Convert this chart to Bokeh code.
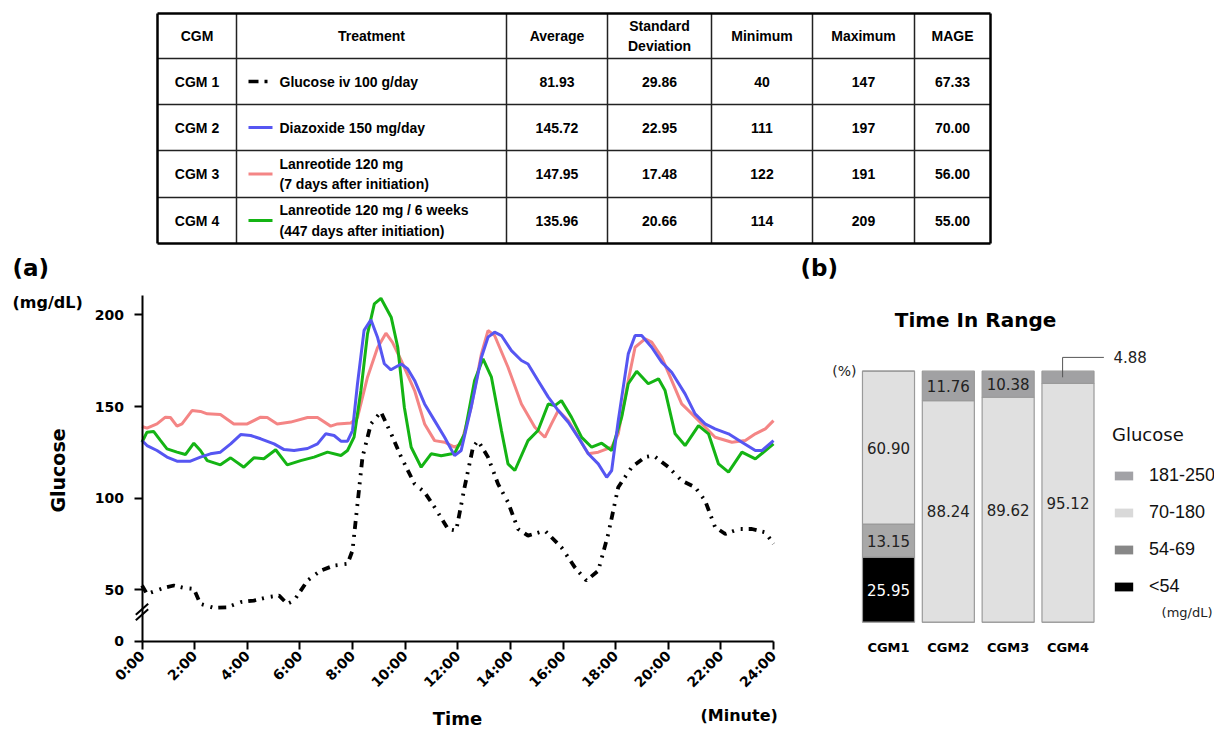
from math import pi
from bokeh.plotting import figure
from bokeh.models import (Range1d, FixedTicker, Label, Legend, LegendItem, ColumnDataSource)
from bokeh.layouts import column, row
from bokeh.embed import file_html
from bokeh.resources import INLINE
from bokeh.core.properties import value

# ---------------- table data ----------------
table_header = ["CGM", "Treatment", "Average", "Standard\nDeviation", "Minimum", "Maximum", "MAGE"]
cgm_names = ["CGM 1", "CGM 2", "CGM 3", "CGM 4"]
treatments = ["Glucose iv 100 g/day", "Diazoxide 150 mg/day",
              "Lanreotide 120 mg\n(7 days after initiation)",
              "Lanreotide 120 mg / 6 weeks\n(447 days after initiation)"]
averages = ["81.93", "145.72", "147.95", "135.96"]
std_devs = ["29.86", "22.95", "17.48", "20.66"]
minimums = ["40", "111", "122", "114"]
maximums = ["147", "197", "191", "209"]
mages = ["67.33", "70.00", "56.00", "55.00"]

# ---------------- CGM curves (hour, mg/dL) ----------------
black_h = [0, 0.19, 0.83, 1.21, 1.59, 1.97, 2.22, 2.73, 3.24, 3.75, 4.25, 4.76, 5.21, 5.52, 5.78,
           6.29, 6.79, 7.3, 7.81, 8.0, 8.19, 8.38, 8.7, 9.08, 9.47, 9.85, 10.36, 10.74, 11.12, 11.63,
           11.94, 12.26, 12.58, 12.77, 13.15, 13.53, 13.91, 14.29, 14.67, 15.31, 15.94, 16.45, 16.89,
           17.34, 17.72, 18.1, 18.61, 19.12, 19.44, 20.01, 20.51, 21.02, 21.4, 21.78, 22.17, 22.67,
           23.18, 23.69, 24.0]
black_v = [52.4, 47.8, 51.1, 52.4, 51.1, 50.5, 42.4, 40.2, 40.5, 43.3, 44.2, 46.0, 46.9, 42.4, 44.2,
           55.1, 60.5, 63.3, 64.2, 71.5, 96.9, 122.4, 140.5, 147.0, 135.1, 122.4, 107.8, 103.2, 95.1, 83.2,
           82.3, 106.0, 127.8, 131.4, 122.4, 107.8, 97.8, 83.2, 79.6, 82.3, 73.2, 62.3, 55.1,
           60.5, 80.5, 106.0, 116.9, 122.4, 123.3, 116.9, 109.6, 106.0, 98.7, 84.2, 80.5, 83.2,
           83.2, 81.4, 75.1]

red_h = [0, 0.19, 0.57, 0.89, 1.08, 1.33, 1.52, 1.9, 2.22, 2.48, 2.98, 3.49, 4.0, 4.51, 4.76,
         5.14, 5.65, 6.29, 6.67, 7.17, 7.43, 7.94, 8.19, 8.57, 8.95, 9.27, 9.52, 9.85, 10.36, 10.74,
         11.12, 11.5, 11.88, 12.13, 12.51, 12.9, 13.15, 13.4, 13.91, 14.42, 14.93, 15.31, 15.56, 15.82,
         16.2, 16.58, 16.96, 17.34, 17.85, 18.1, 18.48, 18.74, 19.12, 19.37, 19.75, 20.13, 20.51, 20.9,
         21.28, 21.78, 22.42, 22.93, 23.31, 23.69, 24.0]
red_v = [139.1, 138.2, 140.5, 144.2, 144.0, 139.3, 140.5, 147.8, 147.3, 146.0, 145.6, 140.5, 140.5, 144.2, 144.0,
         140.5, 141.5, 144.0, 144.0, 139.3, 140.5, 141.0, 144.0, 166.0, 182.0, 190.0, 185.0, 175.1, 158.7, 140.5,
         131.4, 130.5, 127.8, 129.6, 149.6, 178.7, 191.4, 188.7, 171.4, 151.4, 138.7, 133.2, 140.5, 147.8,
         142.3, 133.2, 124.2, 125.1, 127.8, 135.1, 164.2, 182.3, 186.9, 185.1, 176.9, 164.2, 151.4, 146.0,
         140.5, 133.2, 130.5, 131.4, 135.1, 137.8, 142.3]

blue_h = [0, 0.19, 0.57, 0.95, 1.33, 1.84, 2.22, 2.6, 2.98, 3.37, 3.75, 4.13, 4.51, 5.02, 5.4,
          5.78, 6.29, 6.67, 6.98, 7.3, 7.56, 7.81, 8.0, 8.19, 8.44, 8.7, 8.95, 9.21, 9.46, 9.85,
          10.1, 10.36, 10.74, 11.12, 11.5, 11.88, 12.13, 12.51, 12.9, 13.15, 13.4, 13.66, 14.04, 14.42,
          14.67, 15.05, 15.44, 15.82, 16.2, 16.58, 16.96, 17.34, 17.66, 17.85, 18.1, 18.48, 18.74, 18.99,
          19.37, 19.75, 20.13, 20.64, 21.02, 21.4, 21.78, 22.29, 22.8, 23.31, 23.56, 24.0]
blue_v = [131.5, 128.7, 126.0, 122.4, 120.2, 120.2, 122.4, 124.2, 125.1, 129.6, 134.7, 134.2, 132.4, 129.6, 126.5,
          126.0, 127.1, 129.6, 135.1, 134.2, 131.1, 131.1, 136.9, 162.4, 191.5, 197.3, 187.8, 173.3, 170.0, 173.2,
          170.5, 164.2, 151.4, 142.3, 133.2, 123.2, 126.0, 149.6, 176.9, 187.8, 190.5, 188.7, 180.5, 175.1,
          173.2, 164.2, 155.1, 147.8, 141.4, 133.2, 124.2, 118.7, 111.4, 115.1, 142.3, 178.7, 188.7, 188.7,
          182.3, 174.2, 168.7, 156.9, 146.0, 140.5, 137.8, 135.1, 130.5, 126.0, 126.0, 131.4]

green_h = [0, 0.19, 0.44, 0.7, 0.95, 1.33, 1.65, 1.97, 2.22, 2.48, 2.98, 3.37, 3.87, 4.25, 4.63,
           5.08, 5.52, 6.03, 6.54, 7.05, 7.56, 7.81, 8.06, 8.32, 8.57, 8.83, 9.08, 9.47, 9.72, 9.97,
           10.23, 10.61, 10.99, 11.37, 11.88, 12.26, 12.64, 12.96, 13.28, 13.66, 13.91, 14.17, 14.67, 15.05,
           15.44, 15.69, 15.94, 16.32, 16.71, 17.09, 17.47, 17.85, 18.23, 18.48, 18.8, 19.24, 19.63, 19.88,
           20.26, 20.64, 21.15, 21.53, 21.91, 22.29, 22.8, 23.31, 24.0]
green_v = [130.5, 136.0, 136.4, 131.5, 126.9, 125.1, 123.8, 130.0, 126.0, 120.5, 118.2, 122.0, 116.9, 122.0, 121.5,
           126.4, 118.2, 120.5, 122.4, 125.1, 123.3, 126.0, 133.3, 158.7, 189.6, 206.0, 209.0, 198.7, 182.3, 149.6,
           127.8, 116.9, 124.2, 123.2, 124.5, 135.1, 164.2, 176.0, 166.0, 136.9, 118.7, 115.1, 131.4, 136.9,
           151.4, 150.5, 153.2, 144.2, 133.2, 127.8, 130.0, 126.0, 144.2, 162.4, 169.2, 162.4, 165.1, 158.7,
           135.1, 128.7, 139.6, 135.1, 118.7, 114.2, 125.1, 121.4, 129.6]

hour_ticks = [0, 2, 4, 6, 8, 10, 12, 14, 16, 18, 20, 22, 24]
glucose_ticks = [50, 100, 150, 200]

# ---------------- time in range data (%) ----------------
tir_names = ["CGM1", "CGM2", "CGM3", "CGM4"]
tir_lt54 = [25.95, 0, 0, 0]
tir_54_69 = [13.15, 0, 0, 0]
tir_70_180 = [60.90, 88.24, 89.62, 95.12]
tir_181_250 = [0, 11.76, 10.38, 4.88]
range_labels = ["181-250", "70-180", "54-69", "<54"]

# ---------------- styles ----------------
BLUE = "#5656F2"
PINK = "#F48585"
GREEN = "#14B414"
BLACK_DASH = "8 6 2 7 2 6"
series_colors = ["black", BLUE, PINK, GREEN]
BOLD_FONT = "DejaVu Sans"

# ============ table ============
TW, TH = 1214, 253
tab = figure(width=TW, height=TH, x_range=Range1d(0, TW), y_range=Range1d(TH, 0),
             output_backend="svg", toolbar_location=None, min_border=0)
tab.axis.visible = False
tab.grid.visible = False
tab.outline_line_color = None

col_edges = [157, 236, 506, 607, 711, 812, 914, 990]
row_edges = [13, 58, 104, 150, 197, 243]
top, bot = row_edges[0], row_edges[-1]
left, right = col_edges[0], col_edges[-1]

inner_v = col_edges[1:-1]
inner_h = row_edges[1:-1]
tab.segment(x0=inner_v, y0=[top] * len(inner_v), x1=inner_v, y1=[bot] * len(inner_v),
            line_color="#222222", line_width=1.5)
tab.segment(x0=[left] * len(inner_h), y0=inner_h, x1=[right] * len(inner_h), y1=inner_h,
            line_color="#222222", line_width=1.5)
tab.segment(x0=[left, right, left, left], y0=[top, top, top, bot],
            x1=[left, right, right, right], y1=[bot, bot, top, bot],
            line_color="black", line_width=2.5)

cx = [(col_edges[j] + col_edges[j + 1]) / 2 for j in range(len(col_edges) - 1)]
ry = [(row_edges[i] + row_edges[i + 1]) / 2 for i in range(len(row_edges) - 1)]

cols = [cgm_names, treatments, averages, std_devs, minimums, maximums, mages]
cx_list, cy_list, ct_list = [], [], []
for j, h in enumerate(table_header):
    cx_list.append(cx[j]); cy_list.append(ry[0]); ct_list.append(h)
for j, colvals in enumerate(cols):
    if j == 1:
        continue
    for i, v in enumerate(colvals):
        cx_list.append(cx[j]); cy_list.append(ry[i + 1]); ct_list.append(v)
TFONT = "14px"
tab.text(x=cx_list, y=cy_list, text=ct_list, text_align="center", text_baseline="middle",
         text_font=value("Liberation Sans"), text_font_style="bold", text_font_size=TFONT,
         text_line_height=1.3, text_color="black")

tx = col_edges[1] + 43
tab.text(x=[tx] * len(treatments), y=ry[1:], text=treatments, text_align="left",
         text_baseline="middle", text_font=value("Liberation Sans"), text_font_style="bold",
         text_font_size=TFONT, text_line_height=1.3, text_color="black")
for i in range(len(treatments)):
    tab.line(x=[col_edges[1] + 12, col_edges[1] + 36], y=[ry[i + 1]] * 2,
             line_color=series_colors[i], line_width=3.5 if i == 0 else 3,
             line_dash="10 6 3 20" if i == 0 else "solid")

# ============ (a) CGM curves ============
H2 = 479                 # height of the lower row
PX_H = 631.5 / 24        # px per hour
PX_G = 1.834             # px per mg/dL
Y_ZERO_POS = 22          # where the broken axis shows "0"
LW = 798
x0_px, y200_px = 141.5, 61.3   # layout anchors inside the canvas
lp = figure(width=LW, height=H2,
            x_range=Range1d(-x0_px / PX_H, (LW - x0_px) / PX_H),
            y_range=Range1d(200 - (H2 - y200_px) / PX_G, 200 + y200_px / PX_G),
            output_backend="svg", toolbar_location=None, min_border=0)
lp.grid.visible = False
lp.outline_line_color = None

lp.line(black_h, black_v, line_color="black", line_width=3.8, line_dash=BLACK_DASH)
lp.line(red_h, red_v, line_color=PINK, line_width=3)
lp.line(green_h, green_v, line_color=GREEN, line_width=3)
lp.line(blue_h, blue_v, line_color=BLUE, line_width=3)

for ax in (lp.xaxis[0], lp.yaxis[0]):
    ax.axis_line_width = 2
    ax.major_tick_line_width = 2
    ax.major_tick_out = 8
    ax.major_tick_in = 0
    ax.minor_tick_line_color = None
    ax.major_label_text_font = BOLD_FONT
    ax.major_label_text_font_style = "bold"
    ax.major_label_text_font_size = "14px"
    ax.major_label_text_color = "black"

lp.xaxis.fixed_location = Y_ZERO_POS
lp.xaxis.bounds = (hour_ticks[0], hour_ticks[-1])
lp.xaxis.ticker = FixedTicker(ticks=hour_ticks)
lp.xaxis.major_label_overrides = {h: f"{h}:00" for h in hour_ticks}
lp.xaxis.major_label_orientation = pi / 4
lp.xaxis.major_label_standoff = 4

lp.yaxis.fixed_location = 0
lp.yaxis.bounds = (Y_ZERO_POS, 210.6)
lp.yaxis.ticker = FixedTicker(ticks=[Y_ZERO_POS] + glucose_ticks)
lp.yaxis.major_label_overrides = {Y_ZERO_POS: "0"}
lp.yaxis.major_label_standoff = 10

# axis-break marks
BREAK_Y = 38
lp.segment(x0=[-0.235, -0.235], y0=[BREAK_Y - 4.5, BREAK_Y - 1.5],
           x1=[0.235, 0.235], y1=[BREAK_Y + 1.5, BREAK_Y + 4.5], line_color="black", line_width=2)

def lab(fig, x, y, text, size, bold=True, color="black", **kw):
    fig.add_layout(Label(x=x, y=y, x_units="screen", y_units="screen", text=text,
                         text_font=BOLD_FONT, text_font_style="bold" if bold else "normal",
                         text_font_size=size, text_baseline="middle", text_color=color, **kw))

lab(lp, 12, H2 - 14, "(a)", "23px")
lab(lp, 12, H2 - 49, "(mg/dL)", "16px")
lab(lp, 700, 17, "(Minute)", "16px")
lab(lp, 457, 14, "Time", "18px", text_align="center")
lab(lp, 57, 262, "Glucose", "19px", text_align="center", angle=pi / 2)

# ============ (b) time in range ============
idx = list(range(len(tir_names)))
RW = 416
PX_C = 59.83            # px per category slot
PX_P = 2.51             # px per percent
c0_px, y0_px = 90, 368.7   # canvas position of first bar centre and of 0 %
rp = figure(width=RW, height=H2,
            x_range=Range1d(-c0_px / PX_C, (RW - c0_px) / PX_C),
            y_range=Range1d(-(H2 - y0_px) / PX_P, y0_px / PX_P),
            output_backend="svg", toolbar_location=None, min_border=0)
rp.grid.visible = False
rp.outline_line_color = None

stack_keys = ["lt54", "r54_69", "r70_180", "r181_250"]
stack_colors = ["#000000", "#A8A8A8", "#E0E0E0", "#A1A1A3"]
src = ColumnDataSource(dict(x=idx, lt54=tir_lt54, r54_69=tir_54_69, r70_180=tir_70_180,
                            r181_250=tir_181_250))
rp.vbar_stack(stack_keys, x="x", width=0.87, source=src, fill_color=stack_colors,
              line_color="#9A9A9A", line_width=1.2)

lab_x, lab_y, lab_t, lab_c = [], [], [], []
callout = None
for i in idx:
    base = 0.0
    for key, vals in zip(stack_keys, [tir_lt54, tir_54_69, tir_70_180, tir_181_250]):
        v = vals[i]
        if v > 0:
            if v >= 8:
                lab_x.append(i); lab_y.append(base + v / 2); lab_t.append(f"{v:.2f}")
                lab_c.append("white" if key == "lt54" else "#222222")
            else:
                callout = (i, base + v / 2, v)
        base += v
rp.text(x=lab_x, y=lab_y, text=lab_t, text_color=lab_c, text_align="center",
        text_baseline="middle", text_font=value("DejaVu Sans"), text_font_size="15px")
if callout is not None:
    ci, cy, cv = callout
    elbow = 100 + 5.5
    rp.line(x=[ci - 0.09, ci - 0.09, ci + 0.6], y=[cy, elbow, elbow], line_color="#555555",
            line_width=1)
    rp.text(x=[ci + 0.76], y=[elbow], text=[f"{cv:.2f}"], text_align="left",
            text_baseline="middle", text_font=value("DejaVu Sans"), text_font_size="15px",
            text_color="#222222")

# legend key (colours as shown in the key)
legend_colors = ["#A2A2A6", "#D9D9D9", "#878787", "#000000"]
items = []
for labl, col in zip(range_labels, legend_colors):
    ksrc = ColumnDataSource(dict(x=[float("nan")], top=[float("nan")]))
    r = rp.vbar(x="x", top="top", width=0.5, source=ksrc, fill_color=col, line_color=None)
    items.append(LegendItem(label=labl, renderers=[r]))
legend = Legend(items=items, location=(314, 135), title="Glucose",
                glyph_width=23, glyph_height=11, label_standoff=14, spacing=16,
                label_text_font="Liberation Sans", label_text_font_size="18px",
                label_text_color="#111111",
                title_text_font="DejaVu Sans", title_text_font_size="18px",
                title_text_font_style="normal", title_text_color="#111111", title_standoff=20,
                padding=0, margin=0, border_line_color=None, background_fill_alpha=0)
rp.add_layout(legend)

rp.xaxis.fixed_location = 0
rp.xaxis.ticker = FixedTicker(ticks=idx)
rp.xaxis.major_label_overrides = {i: n for i, n in zip(idx, tir_names)}
rp.xaxis.axis_line_color = None
rp.xaxis.major_tick_line_color = None
rp.xaxis.major_tick_out = 0
rp.xaxis.minor_tick_line_color = None
rp.xaxis.major_label_standoff = 18
rp.xaxis.major_label_text_font = BOLD_FONT
rp.xaxis.major_label_text_font_style = "bold"
rp.xaxis.major_label_text_font_size = "13px"
rp.xaxis.major_label_text_color = "black"

rp.yaxis.fixed_location = idx[0] - 0.5
rp.yaxis.ticker = FixedTicker(ticks=[100])
rp.yaxis.major_label_overrides = {100: "(%)"}
rp.yaxis.axis_line_color = None
rp.yaxis.major_tick_line_color = None
rp.yaxis.major_tick_out = 0
rp.yaxis.minor_tick_line_color = None
rp.yaxis.major_label_standoff = 2
rp.yaxis.major_label_text_font = "DejaVu Sans"
rp.yaxis.major_label_text_font_size = "14px"
rp.yaxis.major_label_text_color = "#222222"

lab(rp, 177, H2 - 66, "Time In Range", "20px", text_align="center")
lab(rp, 2, H2 - 14, "(b)", "23px")
lab(rp, 414, H2 - 358.7, "(mg/dL)", "13px", bold=False, text_align="right", color="#222222")

layout = column(tab, row(lp, rp))
open("out.html", "w").write(file_html(layout, INLINE))
